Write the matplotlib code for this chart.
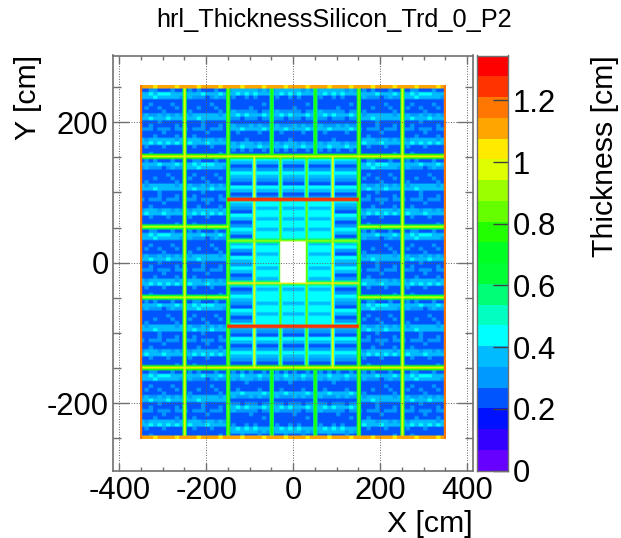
import matplotlib
matplotlib.use('Agg')
import matplotlib.pyplot as plt
import numpy as np
from matplotlib.colors import ListedColormap, BoundaryNorm
from matplotlib.ticker import MultipleLocator

plt.rcParams['font.family'] = ['Liberation Sans', 'DejaVu Sans']
plt.rcParams['axes.unicode_minus'] = False

W, H = 621, 538
GREY = '#707070'

# palette of the picture, bottom to top
palette = ['#6600ff', '#3300ff', '#0011ff', '#0055ff', '#0099ff', '#00bbff', '#00ffff', '#00ffc0',
           '#00ff77', '#00ff33', '#00ff22', '#22ff00', '#66ff00', '#9cff00', '#deff00', '#ffea00',
           '#ffa500', '#ff7700', '#ff3300', '#ff0000']
z_max = 1.345

x_bins = np.arange(-350, 352.5, 2.5)
y_bins = np.arange(-250, 252.5, 2.5)

# one colour level per cell (base 20), 10 cm wide, 5 cm high, top row first
outer_a = ['3333343333', '3344333433', '5565666555', '5556555554', '3333333333',
           '3343333433', '3433433343', '3333343333', '4544545454', '5565556555',
           '3333433333', '3343333343', '4443444344', '3333343333', '3334333343',
           '5455555545', '5565656565', '3433343333', '3333333333', '3343333333']
outer_b = ['3333333343', '3434333433', '5555655565', '4544434544', '3333333333',
           '3333334333', '3334333433', '3433333343', '5455555545', '5556555555',
           '3333433333', '3333433343', '4344434443', '3333343333', '3343333333',
           '4555455454', '5655565555', '3343334333', '3333333333', '3333333343']
center_a = ['3334333433', '4555555454', '5565656555', '3433434333', '3333333333',
            '3333333343', '3333343333', '4544444344', '5565655565', '4443444344',
            '3333333333', '4544454544', '5556555565', '3343333433', '3333333333',
            '3333433333', '4545554544', '5556555655', '3434343343', '3333333333']

# rows of the inner block, from y=145 down to y=-145
stripe_rows = [6, 5, 3, 4, 6, 5, 4, 3, 6, 5, 3, 4, 6, 5, 4, 3, 6, 5, 3, 4,
               6, 5, 3, 4, 5, 6, 4, 3, 6, 5, 4, 6, 5, 3, 4, 6, 5, 3, 4, 6,
               5, 4, 3, 6, 5, 3, 4, 6, 5, 4, 3, 6, 5, 3, 4, 6, 5, 4, 3]
# rows of the cyan core, from y=85 down to y=-85
core_rows = [6, 6, 5, 6, 6, 5, 6, 6, 5, 6, 6, 6, 5, 6, 6, 5, 6, 6,
             6, 5, 6, 6, 5, 6, 6, 5, 6, 6, 6, 5, 6, 6, 5, 6, 6]

# x, y_low, y_high, level, level beside the line
v_lines = [(-250, -250, 250, 14, 9), (250, -250, 250, 14, 9),
           (-150, -250, 250, 12, 9), (150, -250, 250, 12, 9),
           (-50, 150, 250, 11, 8), (50, 150, 250, 11, 8),
           (-50, -250, -150, 11, 8), (50, -250, -150, 11, 8),
           (-90, -150, 150, 14, 6), (90, -150, 150, 14, 6),
           (-30, -150, 150, 12, 6), (30, -150, 150, 12, 6)]
# y, x_low, x_high, level, level beside the line
h_lines = [(150, -350, 350, 15, 11), (-150, -350, 350, 15, 11),
           (50, -350, -150, 14, 9), (-50, -350, -150, 14, 9),
           (50, 150, 350, 14, 9), (-50, 150, 350, 14, 9),
           (30, -150, 150, 13, 8), (-30, -150, 150, 15, 8)]
red_lines = [90, -90]
edge_speckle = 'gggfggggfg'


def put_module(cells, x0, y_top, pattern):
    for ir, row in enumerate(pattern):
        iy = np.searchsorted(y_bins, y_top - 5 * ir - 2.5)
        for ic, ch in enumerate(row):
            ix = np.searchsorted(x_bins, x0 + 10 * ic)
            cells[iy:iy + 2, ix:ix + 4] = int(ch, 20)


def build_cells():
    cells = np.full((y_bins.size, x_bins.size), 3, dtype=float)
    for x0 in [-350, -250, 150, 250]:
        for k, y_top in enumerate([250, 150, 50, -50, -150]):
            put_module(cells, x0, y_top, outer_a if (k + x0 // 100) % 2 == 0 else outer_b)
    for x0 in [-150, -50, 50]:
        put_module(cells, x0, 250, center_a)
        put_module(cells, x0, -150, center_a[::-1])

    # inner block
    inner = (x_bins > -150) & (x_bins < 150)
    for y, lev in zip(np.arange(-145, 150, 5)[::-1], stripe_rows):
        row = np.abs(y_bins - y) < 3
        cells[np.ix_(row, inner)] = lev
    core = (x_bins > -90) & (x_bins < 90)
    for y, lev in zip(np.arange(-85, 90, 5)[::-1], core_rows):
        row = np.abs(y_bins - y) < 3
        cells[np.ix_(row, core)] = lev

    # support lines, green edge first, core on top
    for x, y0, y1, lev, side in v_lines:
        iy = (y_bins >= y0) & (y_bins <= y1)
        for dx in (-2.5, 5):
            cells[iy, x_bins == x + dx] = side
    for y, x0, x1, lev, side in h_lines:
        ix = (x_bins >= x0) & (x_bins <= x1)
        for dy in (-2.5, 2.5):
            cells[y_bins == y + dy, ix] = side
    for x, y0, y1, lev, side in v_lines:
        iy = (y_bins >= y0) & (y_bins <= y1)
        cells[iy, x_bins == x] = lev
        cells[iy, x_bins == x + 2.5] = lev
    for y, x0, x1, lev, side in h_lines:
        ix = (x_bins >= x0) & (x_bins <= x1)
        cells[y_bins == y, ix] = lev
    for y in red_lines:
        ix = (x_bins >= -150) & (x_bins <= 150)
        cells[y_bins == y, ix] = 18
        cells[y_bins == y - 2.5, ix] = 18

    # outer border
    for i in range(x_bins.size):
        lev = int(edge_speckle[(i // 4) % 10], 20)
        cells[:2, i] = lev
        cells[-2:, i] = lev
    cells[:, :2] = 17
    cells[:, -2:] = 17

    # value of each cell, hole in the middle stays white
    values = (cells + 0.5) * z_max / len(palette)
    hole = np.outer(np.abs(y_bins) <= 27.5, np.abs(x_bins) <= 27.5)
    return np.ma.masked_where(hole, values)


def px_axes(fig, left, top, right, bottom):
    return fig.add_axes([left / W, 1 - bottom / H, (right - left) / W, (bottom - top) / H])


fig = plt.figure(figsize=(W / 100, H / 100), dpi=100)
ax = px_axes(fig, 112.7, 55.5, 473.3, 470.7)

cmap = ListedColormap(palette)
cmap.set_bad((1, 1, 1, 0))
norm = BoundaryNorm(np.linspace(0, z_max, len(palette) + 1), len(palette))
ax.imshow(build_cells(), origin='lower', aspect='auto', cmap=cmap, norm=norm,
          extent=[x_bins[0] - 1.25, x_bins[-1] + 1.25, y_bins[0] - 1.25, y_bins[-1] + 1.25],
          interpolation='bilinear', interpolation_stage='rgba')

ax.set_xlim(-415, 414)
ax.set_ylim(-296, 295)
ax.xaxis.set_major_locator(MultipleLocator(200))
ax.xaxis.set_minor_locator(MultipleLocator(50))
ax.yaxis.set_major_locator(MultipleLocator(200))
ax.yaxis.set_minor_locator(MultipleLocator(50))
ax.tick_params(axis='x', which='major', direction='in', top=True, length=6, width=1, color=GREY,
               labelsize=22.3, pad=4)
ax.tick_params(axis='x', which='minor', direction='in', top=True, length=3, width=1, color=GREY)
ax.tick_params(axis='y', which='major', direction='in', right=True, length=11.5, width=1, color=GREY,
               labelsize=22.3, pad=3)
ax.tick_params(axis='y', which='minor', direction='in', right=True, length=5.8, width=1, color=GREY)
ax.grid(True, which='major', color='#606060', linestyle=':', linewidth=0.7)
ax.set_axisbelow(False)
for s in ax.spines.values():
    s.set_color(GREY)
    s.set_linewidth(1.2)

# colour scale
cax = px_axes(fig, 477.3, 55.5, 508.3, 470.7)
levels = np.linspace(0, z_max, len(palette) + 1)
cax.pcolormesh([0, 1], levels, ((levels[:-1] + levels[1:]) / 2).reshape(-1, 1), cmap=cmap, norm=norm)
cax.set_ylim(0, z_max)
cax.set_xticks([])
cax.yaxis.tick_right()
cax.set_yticks([0, 0.2, 0.4, 0.6, 0.8, 1.0, 1.2])
cax.set_yticklabels(['0', '0.2', '0.4', '0.6', '0.8', '1', '1.2'])
cax.tick_params(axis='y', direction='in', length=10.8, width=1, color='#404040', labelsize=22.3, pad=3)
for s in cax.spines.values():
    s.set_color(GREY)
    s.set_linewidth(1)

fig.text(334.5 / W, 1 - 27 / H, 'hrl_ThicknessSilicon_Trd_0_P2', ha='center', va='baseline', fontsize=18.2)
fig.text(473 / W, 1 - 532 / H, 'X [cm]', ha='right', va='baseline', fontsize=21.8)
fig.text(28 / W, 1 - 55 / H, 'Y [cm]', ha='center', va='top', rotation=90, fontsize=21.8)
fig.text(605 / W, 1 - 55 / H, 'Thickness [cm]', ha='center', va='top', rotation=90, fontsize=21.8)

fig.savefig('out.png', dpi=100)
